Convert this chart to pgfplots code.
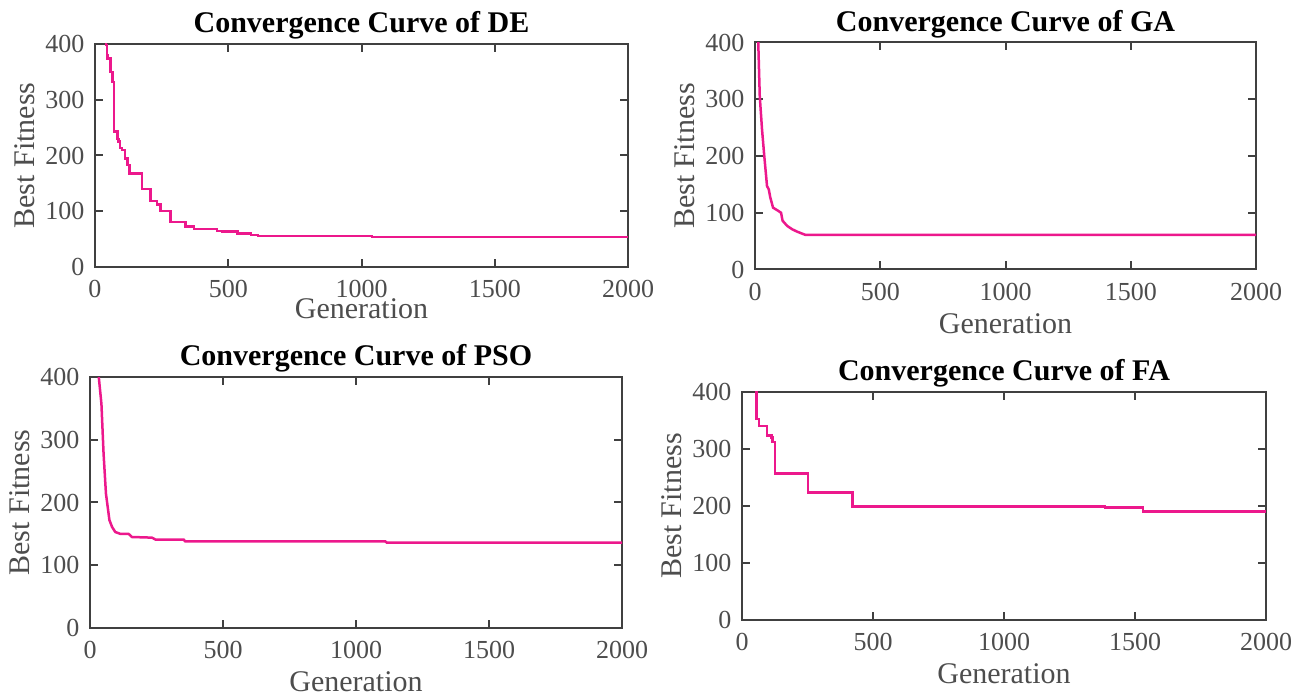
\documentclass[border=0pt]{standalone}
\usepackage{pgfplots}
\pgfplotsset{compat=1.18}
\usepackage{fontspec}
\setmainfont{Liberation Serif}
\definecolor{curve}{RGB}{236,24,140}
\definecolor{axc}{RGB}{64,64,64}
\definecolor{txt}{RGB}{77,77,77}
\pgfplotsset{
  conv/.style={
    scale only axis, anchor=south west,
    xmin=0,xmax=2000,ymin=0,ymax=400,
    xtick={0,500,1000,1500,2000}, ytick={0,100,200,300,400},
    tick align=inside, major tick length=8pt,
    axis line style={axc, line width=2pt},
    every tick/.style={axc, line width=2pt},
    tick label style={font=\fontsize{26}{26}\selectfont, text=txt},
    xticklabel style={yshift=-10pt},
    yticklabel style={xshift=-7pt},
    /pgf/number format/assume math mode=true,
    /pgf/number format/set thousands separator={},
    label style={font=\fontsize{30}{30}\selectfont, text=txt},
    title style={font=\fontsize{30}{30}\selectfont\bfseries, text=black, yshift=-5pt},
    xlabel=Generation, ylabel=Best Fitness,
    xlabel style={yshift=-6pt},
    ylabel style={yshift=4pt},
  },
  cv/.style={curve, line width=2.5pt, mark=none},
}
\begin{document}
\begin{tikzpicture}
\useasboundingbox (0pt,0pt) rectangle (1303pt,698pt);
% DE
\begin{axis}[conv, at={(95pt,431pt)}, width=533pt, height=223pt,
  title={Convergence Curve of DE}, xlabel style={yshift=12pt}]
\addplot[cv, const plot] coordinates {
(1,460)(42,398)(45,380)(47,374)(59,350)(66,332)(72,243)(84,230)(88,225)
(94,213)(101,210)(113,195)(122,183)(130,168)(176,140)(208,118)(233,112)
(245,100)(283,81)(340,73)(371,68)(457,65)(478,64)(535,60)(585,57)(611,56)
(1039,54)(2000,54)};
\end{axis}
% GA
\begin{axis}[conv, at={(755pt,428.5pt)}, width=501pt, height=227pt,
  title={Convergence Curve of GA}]
\addplot[cv] coordinates {
(1,520)(13,400)(19,305)(28,247)(37,200)(48,147)(55,141)(61,127)(72,109)
(94,103)(104,100)(110,86)(128,77)(148,71)(168,66.7)(201,61)(2000,61)};
\end{axis}
% PSO
\begin{axis}[conv, at={(90pt,70pt)}, width=532pt, height=251pt,
  title={Convergence Curve of PSO}]
\addplot[cv] coordinates {
(1,470)(33,400)(43,357)(51,278)(60,214)(73,172)(83,161)(95,153)(114,150)
(145,150)(158,145)(233,144)(246,141)(352,141)(358,138)(1110,138)(1116,136)
(2000,136)};
\end{axis}
% FA
\begin{axis}[conv, at={(742pt,78pt)}, width=524pt, height=228pt,
  title={Convergence Curve of FA}]
\addplot[cv, const plot] coordinates {
(1,450)(55,353)(64,340)(95,324)(112,320)(117,312)(125,257)(252,224)
(422,199)(1385,197)(1530,190)(2000,190)};
\end{axis}
\end{tikzpicture}
\end{document}
